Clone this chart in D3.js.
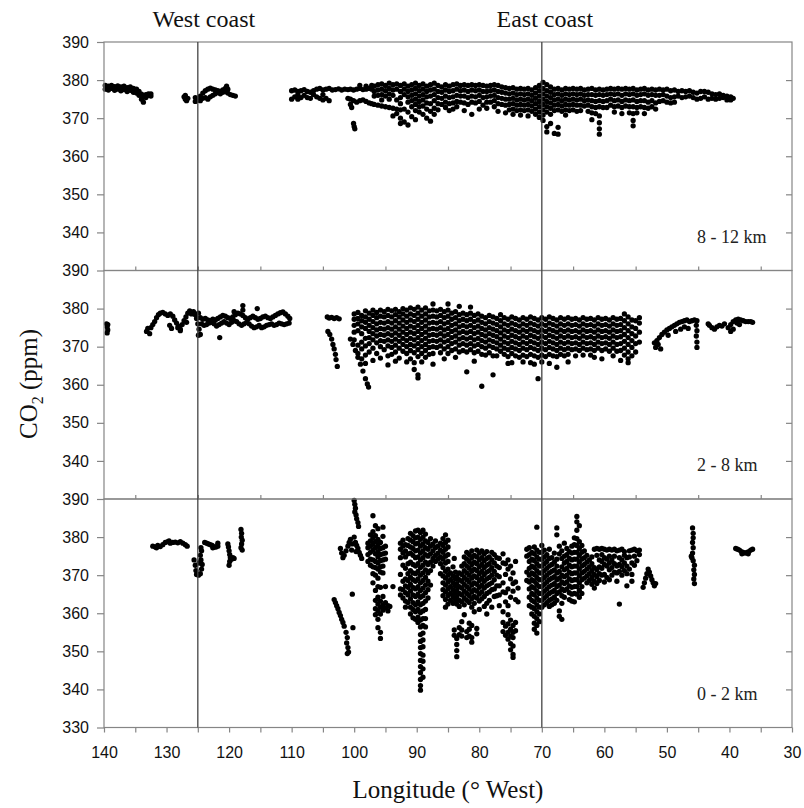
<!DOCTYPE html>
<html>
<head>
<meta charset="utf-8">
<script src="https://cdn.jsdelivr.net/npm/d3@7"></script>
<style>
  body { margin: 0; background: #fff; }
  svg { display: block; }
</style>
</head>
<body>
<div id="chart"></div>
<script>
// Each row: [longitude (deg W), CO2 readings (ppm) at that longitude...]

// 8 - 12 km
const upperRows = [
  [139.8,378.6,377.6],[139.3,378.4,377.4],[138.8,378.6,377.8],[138.3,378.3,377.3],[137.8,378.5,377.6],
  [137.3,378.2,377.2],[136.8,378.4,377.5],[136.3,378.0,377.0],[135.8,378.2,377.3],[135.3,377.8,376.8],
  [134.8,377.6,376.6],[134.4,377.0,376.0],[134.0,376.3,375.0],[133.7,375.6,374.2],[133.3,376.2,375.4],
  [132.9,376.0,376.4],[132.5,375.8,376.4],
  [127.2,375.6],[127.0,375.0,376.0],[126.8,374.6],[126.6,375.2],
  [125.4,374.4,375.4],[125.0,374.8],[124.6,374.6,375.8],[124.2,375.2,376.6],[123.8,375.4,377.2],
  [123.4,375.0,377.6],[123.0,375.6,377.9],[122.6,376.0,377.6],[122.2,376.4,377.4],[121.8,376.8,377.2],
  [121.4,376.4,377.0],[121.0,376.8,377.4],[120.6,377.0,377.8],[120.4,378.4],[120.2,376.6,377.6],
  [119.8,376.2],[119.4,376.0],[119.0,375.8],
  [110.0,377.2,375.0],[109.5,377.4,375.6],[109.0,377.0,376.2,375.0],[108.5,377.2,375.4],[108.0,377.5,376.0],
  [107.5,377.0,375.4],[107.0,376.8,375.2],[106.5,377.2,376.2],[106.0,377.6,375.6],[105.5,377.8,375.2],
  [105.0,377.4,376.2,374.8],[104.5,377.6,375.2],[104.0,377.8,374.6],[103.5,377.4],[103.0,377.5],
  [102.5,377.7],[102.0,377.4],[101.5,377.6],[101.0,377.5,375.2],[100.6,377.6,375.0,373.6],[100.4,372.8],
  [100.1,377.4,374.6,368.6],[100.0,367.8],[99.9,367.2],[99.6,377.6,374.2],[99.1,378.6,377.8,374.6],
  [98.6,377.5,374.8],[98.1,378.4,377.6,374.4],[97.6,377.8,374.0],[97.2,378.6,377.6,373.8],
  [96.8,378.4,377.0,375.8,373.6],[96.2,378.8,377.4,376.0,373.4],[95.6,379.0,377.6,376.2,374.8,373.2],
  [95.0,378.6,377.2,375.8,373.0],[94.4,379.2,377.8,376.4,375.0,372.8],[93.8,378.8,377.4,376.0,372.6,370.6],
  [93.2,379.0,377.6,374.8,372.4,371.2],[92.6,378.6,377.0,375.4,373.8,372.2,370.0,368.6],
  [92.0,379.0,377.6,376.2,372.4,369.0],[91.4,378.4,377.0,375.6,374.2,371.6,368.2],
  [90.8,378.8,377.4,376.0,374.6,373.0,370.4],[90.2,379.2,377.8,376.4,375.0,373.6,372.0,369.6],
  [89.6,378.6,377.2,375.8,374.4,373.0,371.6],[89.0,379.0,377.6,376.2,374.8,373.2,371.0],
  [88.4,378.4,377.0,375.6,374.0,372.4,370.0],[87.8,378.8,377.4,375.8,373.8,371.8,369.2],
  [87.2,379.2,377.6,376.2,374.6,372.6,371.0],[86.6,378.6,377.0,375.4,373.8,372.2],
  [86.0,378.2,376.8,375.2,373.6],[85.4,378.8,377.4,375.8,374.2,372.8],[84.8,378.4,377.0,375.4,373.8,372.0],
  [84.2,378.8,377.2,375.6,374.0,372.4],[83.6,379.0,377.6,376.0,374.4,373.0],[83.0,378.6,377.2,375.8,374.2],
  [82.4,378.8,377.4,375.8,374.0,372.0],[81.8,378.6,377.0,375.4,373.6],[81.2,378.8,377.4,375.8,374.2,371.0],
  [80.6,378.6,377.2,375.6,374.0],[80.0,378.8,377.4,376.0,374.4,372.4],[79.4,378.6,377.0,375.4,373.4],
  [78.8,378.4,377.0,375.6,374.2,372.6],[78.2,378.6,377.2,375.8,374.2],[77.6,378.8,377.4,376.0,374.6,373.0],
  [77.0,378.6,377.0,375.4,373.8,371.8],[76.4,378.2,376.8,375.2,373.6],[75.8,378.0,376.6,375.0,373.4,371.4],
  [75.2,377.8,376.4,375.0,373.6,372.2],[74.6,378.0,376.6,375.2,373.8,372.4,371.0],[74.0,377.6,376.2,374.8,373.4,372.0],
  [73.4,377.8,376.4,375.0,373.6,372.2,370.8],[72.8,377.6,376.2,374.8,373.4,372.0],
  [72.2,377.8,376.4,375.0,373.6,372.2,370.6],[71.6,377.4,376.0,374.6,373.2,371.8],
  [71.0,378.0,376.6,375.2,373.8,372.4,371.0],[70.4,378.6,377.2,375.8,374.4,373.0,371.6,370.2],
  [69.8,379.4,377.8,376.4,375.0,373.6,372.2,370.8,369.4],[69.2,378.8,377.2,375.8,374.4,373.0,371.6,367.8,366.4],
  [68.6,378.2,376.8,375.4,374.0,372.6,371.0,368.6],[68.0,377.6,376.2,374.8,373.4,372.0,366.0],
  [67.4,377.8,376.4,375.0,373.6,372.2,367.6,365.8],[66.8,377.4,376.0,374.6,373.2,371.8],
  [66.2,377.8,376.4,375.0,373.6,372.2,370.8],[65.6,377.6,376.2,374.8,373.4,372.0],
  [65.0,377.8,376.4,375.0,373.6,372.2],[64.4,377.6,376.2,374.8,373.4,371.8],[63.8,377.8,376.4,375.0,373.4,372.0],
  [63.2,377.4,376.0,374.6,373.2],[62.6,377.6,376.2,374.8,373.4,371.8],[62.0,377.8,376.2,374.6,373.0,371.4,369.6],
  [61.4,377.4,376.0,374.4,372.8,371.2],[60.8,377.6,376.2,374.6,373.0,370.6,368.8,367.2,365.8],
  [60.2,377.4,376.0,374.4,372.8],[59.6,377.6,376.2,374.6,372.8],[59.0,377.8,376.4,375.0,373.4],
  [58.4,377.6,376.2,374.6,373.0,371.6],[57.8,377.8,376.4,374.8,373.2],[57.2,377.6,376.0,374.4,372.8,371.2],
  [56.6,377.8,376.4,374.8,373.2],[56.0,377.6,376.2,374.6,373.0,371.4],
  [55.4,377.8,376.4,374.8,373.0,371.2,369.4,368.0],[54.8,377.4,376.0,374.4,372.8,371.4],
  [54.2,377.6,376.2,374.6,373.0],[53.6,377.8,376.4,374.6,372.8,371.2],[53.0,377.4,376.0,374.2,372.6],
  [52.4,377.6,376.2,374.6,373.0],[51.8,377.4,376.0,374.0,372.4],[51.2,377.6,376.0,374.4],
  [50.6,377.4,376.2,374.6],[50.0,377.6,375.8,374.2],[49.4,377.2,375.4,374.0],[48.8,377.4,375.6,374.2],
  [48.2,377.0,375.8],[47.6,377.2,375.4],[47.0,377.0,375.6],[46.4,377.2,375.8],[45.8,376.8,375.4],
  [45.2,376.6,375.0],[44.6,377.0,375.2],[44.0,377.0,375.6],[43.4,376.8,375.0],[42.8,376.4,375.2],
  [42.2,376.2,375.0],[41.6,376.4,375.2],[41.0,376.0,375.4],[40.4,375.8,374.8],[39.8,375.6,374.8],[39.4,375.2]
];

// 2 - 8 km
const middleRows = [
  [139.6,376.0],[139.5,375.2],[139.4,374.4,375.8],[139.5,373.6],
  [133.2,374.0],[133.0,374.8],[132.7,373.4],[132.5,375.0],[132.2,375.8],[131.9,376.6],[131.6,377.6],
  [131.3,378.4],[131.0,378.8],[130.6,379.0],[130.2,378.6],[129.8,378.2],[129.5,375.6],[129.4,378.6],
  [129.2,374.8],[129.0,378.0],[128.7,377.0],[128.4,376.2],[128.2,375.0],[128.1,375.4],[127.8,374.6,374.2],
  [127.5,375.8],[127.2,376.8],[126.9,377.8],[126.8,376.4],[126.6,378.8],[126.3,379.4],[126.0,378.6],
  [125.7,379.2],[125.4,378.4],[125.2,377.4],[125.0,376.0],[124.9,378.8,373.0],[124.8,374.6],[124.6,373.2,377.6],
  [124.4,376.0],[124.2,377.2],[124.0,375.6],[123.8,377.4],[123.6,375.8],[123.4,377.0],[123.2,376.2],
  [123.0,376.8],[122.8,376.4],[122.6,377.2],[122.4,376.0],[122.2,377.0],[122.0,375.4],[121.8,377.4],
  [121.6,375.8],[121.5,372.4],[121.4,377.8],[121.2,376.2],[121.0,378.2],[120.8,376.6],[120.6,378.0],
  [120.4,376.2],[120.2,377.6],[120.0,375.8],[119.8,377.4],[119.6,376.4],[119.4,377.8],[119.2,376.8,379.2],
  [119.0,378.4],[118.8,376.6],[118.6,378.8],[118.4,376.0],[118.2,378.6],[118.0,375.6],[117.8,378.2,380.8,379.6],
  [117.6,376.0],[117.4,377.6],[117.2,376.4],[117.0,377.2],[116.8,376.0],[116.6,377.6],[116.4,375.4],
  [116.2,378.0],[116.0,375.0],[115.8,377.6],[115.6,375.2],[115.5,380.0],[115.4,377.2],[115.2,375.6],
  [115.0,377.4],[114.8,375.0],[114.6,377.8],[114.4,375.2],[114.2,378.0],[114.0,375.6],[113.8,377.6],
  [113.6,375.8],[113.4,377.4],[113.2,376.0],[113.0,377.8],[112.8,375.6],[112.6,378.2],[112.4,375.8],
  [112.2,378.6],[112.0,376.2],[111.8,378.9],[111.6,376.0],[111.4,379.1],[111.2,375.8],[111.0,378.6],
  [110.8,376.0],[110.6,378.0],[110.4,376.2],[110.3,377.4],
  [104.3,377.8],[104.0,377.5],[103.6,377.7],[103.2,377.4],[102.8,377.6],[102.4,377.3],
  [104.2,374.0],[103.9,373.2],[103.6,372.0],[103.4,370.6],[103.2,369.4],[103.0,368.0],[102.9,366.6],[102.7,364.8],
  [100.6,372.0],[100.2,370.6],[99.8,369.0],[99.4,367.2],[99.0,365.4],[98.6,363.6],[98.2,361.6],[97.9,360.2],[97.7,359.4],
  [100.0,378.6,377.2,375.6,373.8,371.8],[99.4,379.0,377.4,376.0,374.2,370.4,368.2],
  [98.8,378.2,376.8,375.2,373.4,371.2,369.4,366.8],[98.2,379.4,377.8,376.4,374.8,372.2,370.2,367.8,365.6],
  [97.6,378.8,377.2,375.6,374.0,372.4,370.8,368.6],[97.0,379.6,378.2,376.6,375.0,373.4,371.8,369.6,366.4],
  [96.4,379.0,377.6,376.0,374.4,372.8,371.0,368.2],[95.8,379.6,378.0,376.4,374.8,373.2,371.6,370.0,367.0],
  [95.2,379.2,377.8,376.2,374.6,373.0,371.4,369.2],[94.6,379.8,378.2,376.6,375.0,373.4,371.8,370.2,367.6,365.2],
  [94.0,379.4,377.8,376.2,374.6,373.0,371.4,369.8,368.0],[93.4,379.8,378.4,376.8,375.2,373.6,372.0,370.4,368.6,366.2],
  [92.8,379.2,377.8,376.2,374.6,373.0,371.4,369.6,367.0],[92.2,380.0,378.6,377.0,375.4,373.8,372.2,370.6,368.8],
  [91.6,379.6,378.0,376.4,374.8,373.2,371.6,370.0,368.2,366.0],[91.0,380.2,378.6,377.0,375.4,373.8,372.2,370.6,369.0,366.8],
  [90.4,379.8,378.2,376.6,375.0,373.4,371.8,370.2,368.4,365.8,364.0],
  [89.8,380.4,378.8,377.2,375.6,374.0,372.4,370.8,369.2,367.4,362.6,361.8],
  [89.2,379.6,378.0,376.4,374.8,373.2,371.6,370.0,368.2,366.0],[88.6,380.2,378.6,377.0,375.4,373.8,372.2,370.6,369.0,367.2],
  [88.0,379.4,377.8,376.2,374.6,373.0,371.4,369.8,368.0],[87.4,381.2,379.6,378.0,376.4,374.8,373.2,371.6,370.0,368.2,365.4],
  [86.8,379.4,377.8,376.2,374.6,373.0,371.4,369.8],[86.2,379.8,378.2,376.6,375.0,373.4,371.8,370.2,368.4],
  [85.6,379.2,377.6,376.0,374.4,372.8,371.2,369.4,366.8],[85.0,381.2,379.6,378.0,376.4,374.8,373.2,371.6,370.0,368.2],
  [84.4,378.8,377.2,375.6,374.0,372.4,370.8,369.0],[83.8,379.2,377.6,376.0,374.4,372.8,371.2,369.4,367.2],
  [83.2,380.6,378.4,376.8,375.2,373.6,372.0,370.4,368.6],[82.6,378.8,377.2,375.6,374.0,372.4,370.8,369.0],
  [82.0,378.4,376.8,375.2,373.6,372.0,370.4,368.6,363.4],[81.4,380.4,378.8,377.2,375.6,374.0,372.4,370.8,369.2],
  [80.8,378.2,376.6,375.0,373.4,371.8,370.2,368.4,366.2],[80.2,378.6,377.0,375.4,373.8,372.2,370.6,368.8],
  [79.6,378.0,376.4,374.8,373.2,371.6,370.0,368.0,359.6],[79.0,377.6,376.0,374.4,372.8,371.2,369.6,367.8],
  [78.4,378.2,376.6,375.0,373.4,371.8,370.2,368.4],[77.8,377.8,376.2,374.6,373.0,371.4,369.8,367.6,362.6],
  [77.2,377.4,375.8,374.2,372.6,371.0,369.4,367.6],[76.6,378.4,376.8,375.2,373.6,372.0,370.4,368.8],
  [76.0,377.6,376.0,374.4,372.8,371.2,369.6,368.0],[75.4,377.2,375.6,374.0,372.4,370.8,369.2,367.4,365.6],
  [74.8,377.8,376.2,374.6,373.0,371.4,369.8,368.2,365.8],[74.2,377.4,375.8,374.2,372.6,371.0,369.4,367.6],
  [73.6,377.0,375.4,373.8,372.2,370.6,369.0,367.2],[73.0,377.6,376.0,374.4,372.8,371.2,369.6,367.8,366.0],
  [72.4,377.2,375.6,374.0,372.4,370.8,369.2,367.4],[71.8,377.8,376.2,374.6,373.0,371.4,369.8,368.0,365.8],
  [71.2,377.4,375.8,374.2,372.6,371.0,369.4,367.6,365.4],[70.6,377.0,375.4,373.8,372.2,370.6,369.0,367.2,361.6],
  [70.0,377.6,376.0,374.4,372.8,371.2,369.6,367.8,366.0],[69.4,377.2,375.6,374.0,372.4,370.8,369.2,367.4],
  [68.8,377.8,376.2,374.6,373.0,371.4,369.8,368.0,365.6],[68.2,377.4,375.8,374.2,372.6,371.0,369.4,367.6],
  [67.6,377.0,375.4,373.8,372.2,370.6,369.0,367.4,364.6],[67.0,377.6,376.0,374.4,372.8,371.2,369.6,368.0],
  [66.4,377.2,375.6,374.0,372.4,370.8,369.2,367.6],[65.8,377.6,376.0,374.4,372.8,371.2,369.6,368.0,366.0],
  [65.2,377.2,375.6,374.0,372.4,370.8,369.2],[64.6,377.4,375.8,374.2,372.6,371.0,369.4,367.6],
  [64.0,377.0,375.4,373.8,372.2,370.6,369.0],[63.4,377.6,376.0,374.4,372.8,371.2,369.6,367.8],
  [62.8,377.2,375.6,374.0,372.4,370.8,369.2],[62.2,377.4,375.8,374.2,372.6,371.0,369.4,367.8],
  [61.6,377.0,375.4,373.8,372.2,370.6,369.0,367.2],[61.0,377.6,376.0,374.4,372.8,371.2,369.6],
  [60.4,377.2,375.6,374.0,372.4,370.8,369.0,366.8],[59.8,377.4,375.8,374.2,372.6,371.0,369.4],
  [59.2,377.0,375.4,373.8,372.2,370.6,368.8],[58.6,377.6,376.0,374.4,372.8,371.2,369.6,367.6],
  [58.0,377.2,375.6,374.0,372.4,370.6,368.8],[57.4,377.4,375.8,374.2,372.6,370.8,369.0,366.4],
  [56.8,378.6,376.8,375.0,373.2,371.4,369.6,367.8],[56.2,377.8,376.0,374.2,372.4,370.6,368.6,366.8,365.8],
  [55.6,377.0,375.2,373.4,371.6,369.8,367.6],[55.0,376.8,374.8,372.8,370.8,368.6],[54.4,377.6,376.2,373.8,371.2],
  [52.0,371.0],[51.8,369.8],[51.6,371.6],[51.4,370.6],[51.2,372.4],[51.0,369.4],[50.8,373.2],[50.4,373.8],
  [50.0,374.4],[49.8,373.0],[49.6,374.8],[49.2,375.2],[48.8,375.6],[48.6,374.0],[48.4,376.0],[48.0,376.4],
  [47.8,374.6],[47.6,376.6],[47.2,376.8,375.2],[46.8,377.0],[46.6,374.8],[46.4,376.6],[46.0,376.8],
  [45.6,377.0],[45.3,375.6,372.8],[45.2,376.8,374.2,371.2,369.8],
  [43.4,376.0],[43.2,375.6],[42.8,375.0],[42.4,374.6],[42.0,375.2],[41.6,375.6],[41.2,375.4],[40.8,376.0],
  [40.2,375.0],[39.8,375.8,374.0],[39.4,376.6,374.6],[39.0,377.0],[38.8,376.2],[38.6,377.2],[38.4,375.8],
  [38.2,377.0],[37.8,376.8],[37.4,376.6],[37.0,376.6],[36.6,376.6],[36.3,376.4]
];

// 0 - 2 km
const lowerRows = [
  [132.2,377.6],[131.8,377.4],[131.6,377.2],[131.4,377.8],[131.0,377.5],[130.6,378.0],[130.2,378.6],
  [129.8,378.8],[129.6,379.0],[129.4,378.4],[129.0,378.6],[128.6,378.7],[128.2,378.5],[127.8,378.8],
  [127.4,378.4],[127.0,378.0],[126.7,377.6],
  [125.6,374.0],[125.4,372.6],[125.3,371.2],[125.2,370.2],[124.9,370.0],[124.8,373.2],[124.6,370.4,375.2],
  [124.5,374.0,377.2],[124.4,371.6,376.4],[124.3,372.8],
  [123.9,378.6],[123.6,378.4],[123.3,378.2],[123.0,378.0],[122.7,377.8],[122.6,377.2],[122.4,377.4],
  [122.1,377.4],[121.8,377.6,378.4],
  [120.2,378.2],[120.1,377.4],[120.0,376.4,372.6],[119.9,375.4,373.6],[119.8,374.6],[119.6,374.2],
  [119.4,374.6],[119.2,374.4],
  [118.1,382.0,377.2],[118.0,381.0,378.2],[118.05,380.0],[117.9,379.2,376.6],
  [100.0,389.6,380.0],[99.9,388.6,386.6],[99.8,387.6,378.6],[99.7,385.8,376.2],[99.6,384.8,377.8],
  [99.4,383.8,377.0],[99.3,382.8],
  [102.2,377.0],[102.0,375.8],[101.8,374.6],[101.6,375.2],[101.3,376.4],[101.0,377.6],[100.8,378.6],
  [100.6,379.4],[100.4,376.6],[100.3,378.2,365.0],[100.2,356.2],[99.2,376.0],[99.0,375.2],[98.8,374.4],
  [103.2,363.6],[103.0,362.8],[102.8,362.0],[102.6,361.2],[102.4,360.2],[102.2,359.4],[102.0,358.4],
  [101.8,357.6],[101.6,356.6],[101.3,355.0],[101.1,353.6,349.4],[101.2,352.2],[101.0,351.0],[100.9,349.8],
  [97.8,378.4,377.2,375.4,373.6],[97.4,380.6,379.0,377.6,376.0,374.2,372.6],
  [97.0,385.6,381.4,379.8,378.2,376.6,374.0,372.2,370.4,368.0],
  [96.6,383.0,380.4,378.8,377.2,375.6,373.6,372.0,370.0,366.0,363.4,361.2,359.6],
  [96.2,382.2,379.4,377.8,376.2,374.8,373.2,371.6,369.2,367.0,364.2,362.4,360.6,358.4,356.2],
  [95.8,378.6,377.0,375.4,373.8,372.2,370.8,366.8,363.2,361.6,359.8,355.0,353.4],
  [95.4,382.6,380.2,377.2,375.6,374.0,372.4,370.6,364.4,362.2,360.8],
  [95.0,377.6,375.8,374.2,367.0,362.8,361.4],[94.6,362.0,360.6],[94.3,361.8],[93.8,367.0],
  [92.6,378.4,376.8,374.6,370.2,366.4,364.8],[92.2,379.2,377.6,375.8,372.6,368.4,366.2,364.0],
  [91.8,378.0,376.4,374.8,371.8,369.0,367.2,365.4,363.2,361.6],
  [91.4,379.6,377.8,375.6,373.0,370.4,368.6,366.8,364.8,362.8],
  [91.0,381.0,379.2,377.4,375.8,373.4,371.2,369.4,367.6,365.8,363.8,361.6,359.8],
  [90.6,380.4,378.8,377.0,375.2,372.8,370.6,368.8,366.8,364.8,362.8,361.0,358.8],
  [90.2,381.6,379.8,378.2,376.4,374.6,372.4,370.4,368.4,366.4,364.4,362.2,360.4,358.4],
  [89.8,381.8,380.0,378.4,376.6,374.8,373.0,371.0,369.0,367.0,365.0,363.0,361.0,359.0,357.6],
  [89.4,381.2,379.4,377.6,375.8,374.0,372.0,370.0,368.0,366.0,364.2,362.2,360.2,358.2,356.4,354.4,352.6,351.0,349.4,347.6,346.0,344.4,342.6,341.0,339.8],
  [89.0,381.8,380.0,378.2,376.4,374.6,372.6,370.6,368.6,366.6,364.6,362.6,360.6,358.6,356.8,354.8,353.0,351.2,349.0,347.4,345.4,343.2],
  [88.6,380.8,379.0,377.2,375.4,373.4,371.4,369.4,367.4,365.4,363.2,361.0,358.6,356.4],
  [88.2,378.6,376.8,375.0,372.8,370.6,368.4,366.2,364.0],[87.8,379.6,377.6,375.6,373.4,371.2,367.4],
  [87.4,378.2,376.4,374.4,372.4],[87.0,379.0,377.2,375.2,373.6],[86.6,377.6,375.8,374.2],
  [86.2,378.4,376.6,374.8,373.0,370.4],[85.8,379.6,377.8,376.0,374.2,372.0,369.8,368.0,366.2,364.6],
  [85.4,380.6,378.6,376.8,375.0,373.2,371.0,369.2,367.4,365.6,363.6,361.6],
  [85.0,379.2,377.4,375.4,373.6,371.6,370.0,368.2,366.4,364.6,362.4],
  [84.6,370.6,368.8,367.0,365.2,363.4],[84.2,372.2,369.8,368.0,366.2,364.4,362.6],
  [84.0,374.4,355.6,354.2],[83.8,370.8,369.0,367.2,365.4,363.6],
  [83.6,369.6,367.8,366.0,364.2,362.4,353.4,351.8,350.2,348.6],
  [83.2,370.6,368.8,367.0,365.2,363.4,361.8,356.2,354.4],
  [82.8,372.4,370.2,368.4,366.6,364.8,363.0,357.8,355.6,354.0],
  [82.4,374.8,373.0,371.2,369.4,367.6,365.8,364.0,362.2,359.6],
  [82.0,376.0,374.2,372.4,370.6,368.8,367.0,365.2,363.4,355.2,353.6],
  [81.6,375.4,373.6,371.8,370.0,368.2,366.4,364.6,362.8,357.4,355.8,354.0],
  [81.2,376.4,374.6,372.8,371.0,369.2,367.4,365.6,363.8,361.6,356.8,353.6,352.4],
  [80.8,375.2,373.4,371.6,369.8,368.0,366.2,364.4,362.6,360.4],
  [80.4,376.6,374.8,373.0,371.2,369.4,367.6,365.8,364.0,356.0,354.6],
  [80.0,375.8,374.0,372.2,370.4,368.6,366.8,365.0,363.2,361.0],
  [79.6,376.4,374.6,372.8,371.0,369.2,367.4,365.6,363.8],
  [79.2,375.6,373.8,372.0,370.2,368.4,366.6,364.4,361.8],
  [78.8,376.2,374.4,372.6,370.8,369.0,367.2,365.2,362.6,359.8],
  [78.4,374.8,373.0,371.2,369.4,367.6,365.6,363.4],[78.0,376.0,374.0,372.0,370.0,368.0,366.2,361.6],
  [77.6,375.4,373.2,371.0,368.8,366.4,364.4],[77.2,374.6,372.4,370.0,367.2,364.6],
  [76.8,374.4,372.0,369.6,367.2,364.8,362.0],[76.2,375.6,373.2,368.0,365.6,360.4,357.6,355.2],
  [75.8,373.0,370.2,365.4,363.0,356.6,354.2],[75.4,374.0,371.6,366.4,362.0,359.6,357.2,355.0,353.2],
  [75.0,372.4,369.0,364.2,358.2,355.8,354.0,352.0,350.4],[74.6,370.6,367.8,365.8,356.8,355.0,353.6,351.4,349.2,348.4],
  [74.2,373.6,368.2,363.6,357.6,355.4],[73.8,366.6,363.0],
  [72.4,376.8,375.0,370.8,368.6],[72.0,377.2,375.4,373.6,371.8,370.0,368.2,366.4,364.2,362.0],
  [71.6,376.0,374.2,372.4,370.6,368.8,367.0,365.2,363.4,361.6,359.8],
  [71.2,377.4,375.6,373.8,372.0,370.2,368.4,366.6,364.8,363.0,361.2,359.2,357.4,355.8],
  [70.8,382.6,376.6,374.8,373.0,371.2,369.4,367.6,365.8,364.0,362.2,360.4,358.6,356.8,354.8],
  [70.4,376.0,374.2,372.4,370.6,368.8,367.0,365.2,363.4,361.6,359.8,357.8],
  [70.0,377.8,376.0,374.2,372.4,370.6,368.8,367.0,365.2,363.4,361.6],
  [69.6,376.6,374.8,373.0,371.2,369.4,367.6,365.8,364.0,362.2],
  [69.2,375.4,373.6,371.8,370.0,368.2,366.4,364.6,362.8],
  [68.8,376.8,374.4,372.4,370.6,368.8,367.0,365.2,363.4,361.8],
  [68.4,374.6,372.8,371.0,369.2,367.4,365.6,363.8,362.2],
  [68.0,375.8,373.4,371.4,369.6,367.8,366.0,364.2,362.6],
  [67.6,382.4,380.6,374.2,372.4,370.6,368.8,367.0,365.2,363.4],
  [67.2,377.6,375.6,371.0,369.2,367.4,365.6,360.6,359.2],
  [66.8,376.4,374.4,372.2,370.0,368.2,366.4,364.6,362.6,358.4],
  [66.4,378.4,375.0,373.2,371.4,369.6,367.8,366.0,364.2],
  [66.0,377.0,375.4,373.6,371.8,370.0,368.2,366.4],[65.6,376.2,374.4,372.6,370.8,369.0,367.2,365.4,363.6],
  [65.2,377.6,375.8,374.0,372.2,370.4,368.6,366.8,365.0,363.2],
  [64.8,379.8,378.0,376.0,374.2,372.4,370.6,368.8,367.0,365.2,363.0],
  [64.4,385.4,384.0,381.8,379.6,377.8,376.0,374.2,372.4,370.6,368.8,367.0,365.0],
  [64.0,383.0,378.8,377.0,375.2,373.4,371.6,369.8,368.0,366.0,364.2],
  [63.6,377.8,376.0,374.2,372.4,370.6,368.8,367.0,365.2],[63.2,376.4,374.6,372.8,371.0,369.2],
  [62.8,375.2,373.4,371.6,369.8,368.0],[62.4,374.0,372.2,370.4,368.6],[62.0,374.8,373.0,371.2,369.4,367.6],
  [61.6,376.8,372.0,370.2,368.4,366.6],[61.2,377.0,375.2,371.4,369.6,367.8],[60.8,376.8,374.0,372.2,370.4,368.6],
  [60.4,377.0,375.4,373.6,371.8,370.0],[60.0,376.8,374.6,372.8,370.2,368.2],[59.6,376.6,374.2,372.4,369.4],
  [59.2,376.8,375.0,373.2,371.4,368.8],[58.8,376.6,374.0,372.0,370.0],[58.4,376.8,375.0,373.0,370.8],
  [58.0,376.4,372.4,370.6,368.4],[57.6,376.6,374.6,372.8,371.0,362.4],[57.2,376.8,374.0,372.2,370.0],
  [56.8,376.2,375.2,373.2,371.2],[56.4,374.6,372.4,370.4,367.2],[56.0,376.4,374.8,371.6],
  [55.6,376.6,373.2,370.2,368.4],[55.2,376.8,375.0,372.6],[54.8,376.4,373.8],[54.4,376.6,375.4],
  [53.8,366.8],[53.6,368.0],[53.4,369.2],[53.2,370.4],[53.0,371.6],[52.8,370.8],[52.6,369.8],[52.4,368.8],
  [52.2,368.0],[52.0,367.2],[51.8,367.8],
  [45.9,382.4,378.6,375.8],[45.8,381.0,379.8,377.2,373.8],[46.0,374.6],[46.1,375.0],[45.6,372.6,370.2,367.8],
  [45.7,371.4,369.0],
  [39.0,377.0],[38.7,376.8],[38.4,376.6],[38.1,376.2],[38.0,375.6],[37.8,376.0],[37.5,375.8],[37.2,376.0],
  [37.0,375.6],[36.9,376.2],[36.6,376.6],[36.3,376.8]
];

const panelLabels = ['8 - 12 km', '2 - 8 km', '0 - 2 km'];
const xTickValues = [140, 130, 120, 110, 100, 90, 80, 70, 60, 50, 40, 30];
const yTicksTop = [390, 380, 370, 360, 350, 340];
const yTicksBottom = [390, 380, 370, 360, 350, 340, 330];
const coasts = [{ lon: 125, label: 'West coast', dx: 6 }, { lon: 70, label: 'East coast', dx: 3 }];

const chartW = 804, chartH = 808;
const plotLeft = 104, plotRight = 792, plotTop = 42, panelH = 228.5;
const sans = 'Liberation Sans, Arial, sans-serif';
const serif = 'Liberation Serif, Times New Roman, serif';
const frameColor = '#858585';

const svg = d3.select('#chart').append('svg')
  .attr('width', chartW)
  .attr('height', chartH);

const x = d3.scaleLinear().domain([140, 30]).range([plotLeft, plotRight]);

const panels = [
  { rows: upperRows, label: panelLabels[0], yTicks: yTicksTop },
  { rows: middleRows, label: panelLabels[1], yTicks: yTicksTop },
  { rows: lowerRows, label: panelLabels[2], yTicks: yTicksBottom }
];

panels.forEach((p, i) => {
  const y0 = plotTop + i * panelH;
  const y = d3.scaleLinear().domain([330, 390]).range([y0 + panelH, y0]);
  const g = svg.append('g');

  // points
  const pts = p.rows.flatMap(([lon, ...vals]) => vals.map(v => [lon, v]));
  g.append('g').selectAll('circle')
    .data(pts)
    .join('circle')
    .attr('cx', d => x(d[0]))
    .attr('cy', d => y(d[1]))
    .attr('r', 2.65)
    .attr('fill', '#000');

  // frame
  g.append('rect')
    .attr('x', plotLeft).attr('y', y0)
    .attr('width', plotRight - plotLeft).attr('height', panelH)
    .attr('fill', 'none')
    .attr('stroke', frameColor)
    .attr('stroke-width', 1.2);

  // left axis
  const yAxis = g.append('g')
    .attr('transform', `translate(${plotLeft},0)`)
    .call(d3.axisLeft(y).tickValues(p.yTicks).tickSize(7).tickPadding(8).tickSizeOuter(0));
  yAxis.select('.domain').remove();
  yAxis.selectAll('line').attr('stroke', frameColor).attr('stroke-width', 1.2);
  yAxis.selectAll('text')
    .attr('font-family', sans).attr('font-size', 16).attr('fill', '#111');

  // right inner ticks
  const rAxis = g.append('g')
    .attr('transform', `translate(${plotRight},0)`)
    .call(d3.axisLeft(y).tickValues([380, 370, 360, 350, 340]).tickSize(6).tickFormat(''));
  rAxis.select('.domain').remove();
  rAxis.selectAll('line').attr('stroke', frameColor).attr('stroke-width', 1.2);

  // small ticks on the top edge of lower panels
  if (i > 0) {
    const tAxis = g.append('g')
      .attr('transform', `translate(0,${y0})`)
      .call(d3.axisTop(x).tickValues(d3.range(135, 30, -10)).tickSize(4).tickFormat(''));
    tAxis.select('.domain').remove();
    tAxis.selectAll('line').attr('stroke', frameColor).attr('stroke-width', 1.2);
  }

  // panel label
  g.append('text')
    .attr('x', 697).attr('y', y0 + panelH - 28)
    .attr('font-family', serif).attr('font-size', 18).attr('fill', '#222')
    .text(p.label);
});

// bottom axis
const bottomY = plotTop + 3 * panelH;
const xAxis = svg.append('g')
  .attr('transform', `translate(0,${bottomY})`)
  .call(d3.axisBottom(x).tickValues(d3.range(140, 29, -5)).tickSize(5).tickPadding(14)
    .tickFormat(d => xTickValues.includes(d) ? d : ''));
xAxis.select('.domain').remove();
xAxis.selectAll('line').attr('stroke', frameColor).attr('stroke-width', 1.2);
xAxis.selectAll('text')
  .attr('font-family', sans).attr('font-size', 16).attr('fill', '#111');

// coast lines
coasts.forEach(c => {
  svg.append('line')
    .attr('x1', x(c.lon)).attr('x2', x(c.lon))
    .attr('y1', plotTop).attr('y2', bottomY)
    .attr('stroke', '#444').attr('stroke-width', 1.3);
  svg.append('text')
    .attr('x', x(c.lon) + c.dx).attr('y', 27)
    .attr('text-anchor', 'middle')
    .attr('font-family', serif).attr('font-size', 24).attr('fill', '#111')
    .text(c.label);
});

// axis titles
svg.append('text')
  .attr('x', (plotLeft + plotRight) / 2).attr('y', 798)
  .attr('text-anchor', 'middle')
  .attr('font-family', serif).attr('font-size', 25).attr('fill', '#111')
  .text('Longitude (° West)');

const yTitle = svg.append('text')
  .attr('transform', 'translate(37,384) rotate(-90)')
  .attr('text-anchor', 'middle')
  .attr('font-family', serif).attr('font-size', 25).attr('fill', '#111');
yTitle.append('tspan').text('CO');
yTitle.append('tspan').attr('font-size', 16).attr('dy', 6).text('2');
yTitle.append('tspan').attr('dy', -6).text(' (ppm)');
</script>
</body>
</html>
